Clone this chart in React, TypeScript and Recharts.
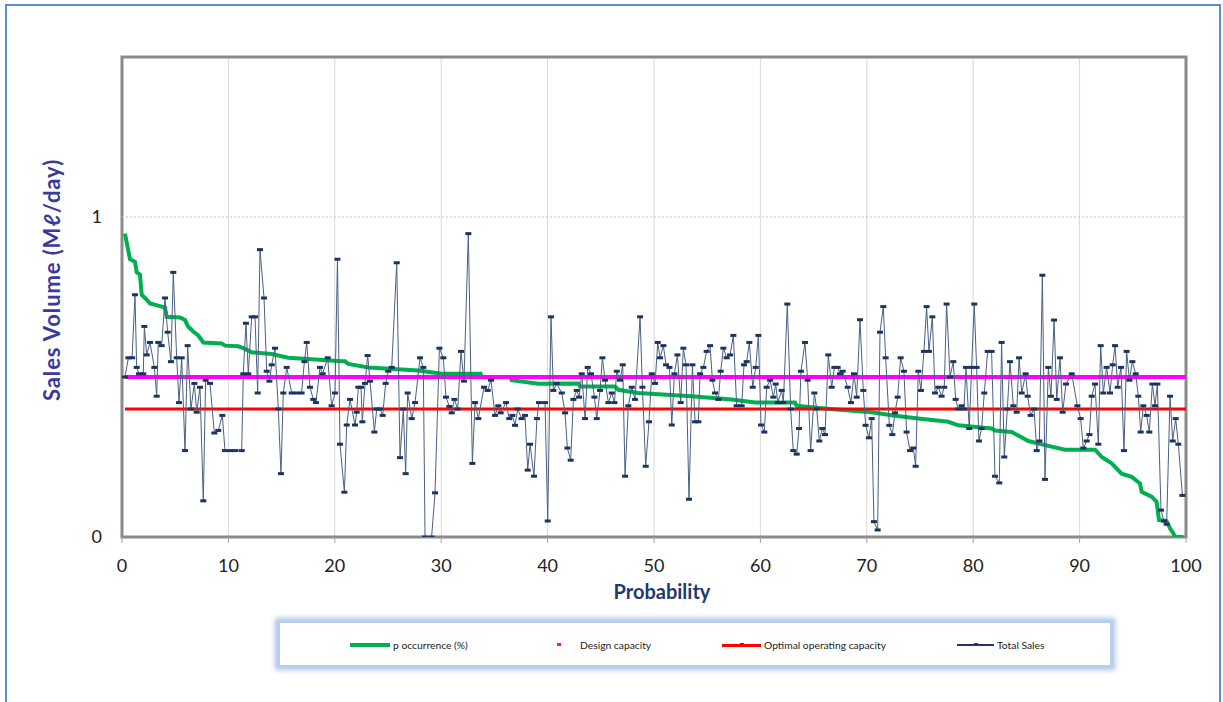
import { CartesianGrid, Label, Line, LineChart, ReferenceArea, ReferenceLine, XAxis, YAxis } from "recharts"

const xTicks = [0, 10, 20, 30, 40, 50, 60, 70, 80, 90, 100]
const yTicks = [0, 1]

// [probability, sales volume]
const totalSales: [number, number][] = [
  [0.28, 0.5], [0.6, 0.56], [0.95, 0.56], [1.22, 0.757], [1.38, 0.53], [1.6, 0.51], [2.0, 0.51], [2.1, 0.658],
  [2.32, 0.569], [2.63, 0.608], [3.04, 0.53], [3.26, 0.44], [3.41, 0.608], [3.73, 0.598], [4.04, 0.747], [4.29, 0.64],
  [4.6, 0.548], [4.82, 0.827], [5.14, 0.56], [5.36, 0.42], [5.61, 0.56], [5.92, 0.27], [6.17, 0.598], [6.48, 0.4],
  [6.8, 0.48], [7.02, 0.39], [7.33, 0.468], [7.64, 0.113], [7.86, 0.49], [8.27, 0.48], [8.68, 0.325], [9.05, 0.333],
  [9.43, 0.38], [9.68, 0.27], [10.15, 0.27], [10.62, 0.27], [11.25, 0.27], [11.4, 0.51], [11.65, 0.668], [11.87, 0.51],
  [12.19, 0.688], [12.5, 0.688], [12.75, 0.45], [12.97, 0.898], [13.35, 0.747], [13.6, 0.518], [13.85, 0.487], [14.07, 0.538],
  [14.38, 0.59], [14.69, 0.4], [14.94, 0.198], [15.16, 0.45], [15.48, 0.53], [15.95, 0.45], [16.42, 0.45], [16.88, 0.45],
  [17.14, 0.548], [17.36, 0.608], [17.67, 0.468], [17.98, 0.43], [18.23, 0.42], [18.61, 0.53], [18.86, 0.51], [19.33, 0.56],
  [19.7, 0.41], [20.02, 0.45], [20.25, 0.868], [20.49, 0.29], [20.9, 0.14], [21.12, 0.35], [21.43, 0.43], [21.9, 0.35],
  [22.06, 0.39], [22.21, 0.468], [22.46, 0.468], [22.59, 0.36], [22.84, 0.48], [23.09, 0.567], [23.31, 0.487], [23.72, 0.328],
  [23.94, 0.4], [24.25, 0.4], [24.5, 0.38], [24.78, 0.48], [25.03, 0.518], [25.35, 0.53], [25.82, 0.857], [26.13, 0.248],
  [26.44, 0.4], [26.66, 0.198], [26.85, 0.45], [27.23, 0.37], [27.54, 0.42], [28.01, 0.56], [28.32, 0.53], [28.48, 0],
  [29.1, 0], [29.42, 0.138], [29.83, 0.59], [30.2, 0.56], [30.45, 0.437], [30.77, 0.408], [30.99, 0.388], [31.24, 0.43],
  [31.55, 0.4], [31.86, 0.58], [32.14, 0.487], [32.55, 0.948], [32.93, 0.23], [33.18, 0.42], [33.49, 0.37], [34.02, 0.468],
  [34.37, 0.458], [34.68, 0.49], [35.06, 0.38], [35.37, 0.41], [35.59, 0.388], [36.09, 0.42], [36.4, 0.37], [36.69, 0.38],
  [36.94, 0.349], [37.19, 0.4], [37.56, 0.37], [37.88, 0.38], [38.13, 0.209], [38.35, 0.29], [38.72, 0.19], [39.0, 0.37],
  [39.19, 0.42], [39.76, 0.42], [40.01, 0.05], [40.32, 0.688], [40.54, 0.458], [40.85, 0.48], [41.33, 0.45], [41.64, 0.388],
  [41.86, 0.278], [42.17, 0.24], [42.42, 0.43], [42.74, 0.458], [42.96, 0.437], [43.21, 0.51], [43.52, 0.37], [43.77, 0.53],
  [44.08, 0.51], [44.4, 0.437], [44.62, 0.37], [44.93, 0.458], [45.15, 0.56], [45.4, 0.49], [45.71, 0.42], [46.03, 0.45],
  [46.28, 0.42], [46.5, 0.518], [46.81, 0.49], [47.06, 0.538], [47.28, 0.19], [47.59, 0.41], [47.91, 0.468], [48.22, 0.43],
  [48.69, 0.688], [48.91, 0.468], [49.22, 0.221], [49.53, 0.36], [49.79, 0.51], [50.1, 0.48], [50.35, 0.608], [50.57, 0.56],
  [50.88, 0.598], [51.13, 0.538], [51.45, 0.53], [51.67, 0.35], [51.92, 0.51], [52.2, 0.569], [52.51, 0.42], [52.76, 0.59],
  [53.01, 0.538], [53.29, 0.118], [53.61, 0.538], [53.86, 0.36], [54.17, 0.36], [54.33, 0.51], [54.64, 0.53], [54.95, 0.58],
  [55.27, 0.598], [55.49, 0.49], [55.74, 0.45], [56.05, 0.43], [56.27, 0.518], [56.52, 0.59], [56.83, 0.56], [57.15, 0.569],
  [57.46, 0.63], [57.77, 0.41], [58.24, 0.41], [58.46, 0.538], [58.71, 0.548], [58.96, 0.608], [59.28, 0.468], [59.56, 0.53],
  [59.81, 0.63], [60.06, 0.35], [60.37, 0.328], [60.59, 0.468], [60.91, 0.49], [61.22, 0.437], [61.44, 0.478], [61.63, 0.42],
  [62.0, 0.458], [62.16, 0.42], [62.53, 0.728], [62.84, 0.4], [63.09, 0.27], [63.41, 0.259], [63.63, 0.339], [63.81, 0.518],
  [64.19, 0.608], [64.44, 0.49], [64.72, 0.27], [65.07, 0.45], [65.29, 0.4], [65.54, 0.3], [65.82, 0.339], [66.07, 0.32],
  [66.38, 0.569], [66.7, 0.468], [66.95, 0.53], [67.26, 0.53], [67.48, 0.51], [67.73, 0.518], [68.2, 0.468], [68.51, 0.42],
  [68.8, 0.51], [69.05, 0.437], [69.36, 0.679], [69.67, 0.458], [69.89, 0.349], [70.2, 0.31], [70.46, 0.37], [70.67, 0.048],
  [71.02, 0.022], [71.24, 0.64], [71.55, 0.72], [71.77, 0.56], [72.12, 0.349], [72.4, 0.32], [72.65, 0.388], [72.9, 0.437],
  [73.18, 0.56], [73.49, 0.518], [73.74, 0.328], [74.06, 0.27], [74.37, 0.278], [74.59, 0.221], [74.84, 0.518], [75.09, 0.458],
  [75.37, 0.58], [75.62, 0.72], [75.84, 0.58], [76.16, 0.688], [76.41, 0.45], [76.72, 0.468], [77.03, 0.44], [77.28, 0.468],
  [77.5, 0.728], [77.82, 0.5], [78.13, 0.548], [78.35, 0.43], [78.6, 0.4], [78.91, 0.41], [79.13, 0.4], [79.32, 0.53],
  [79.63, 0.339], [79.85, 0.53], [80.1, 0.728], [80.32, 0.53], [80.54, 0.3], [80.79, 0.339], [81.04, 0.45], [81.36, 0.58],
  [81.73, 0.58], [82.05, 0.19], [82.45, 0.169], [82.67, 0.608], [82.92, 0.25], [83.21, 0.4], [83.46, 0.548], [83.77, 0.41],
  [84.09, 0.39], [84.31, 0.56], [84.56, 0.45], [84.93, 0.51], [85.12, 0.44], [85.4, 0.38], [85.72, 0.4], [85.97, 0.27],
  [86.22, 0.3], [86.5, 0.818], [86.75, 0.18], [87.06, 0.53], [87.31, 0.44], [87.6, 0.678], [87.85, 0.43], [88.16, 0.56],
  [88.41, 0.39], [88.72, 0.478], [89.26, 0.51], [89.79, 0.41], [90.1, 0.37], [90.35, 0.278], [90.67, 0.3], [90.92, 0.32],
  [91.14, 0.44], [91.45, 0.478], [91.76, 0.29], [91.98, 0.598], [92.23, 0.45], [92.54, 0.53], [92.86, 0.45], [93.11, 0.538],
  [93.33, 0.598], [93.58, 0.468], [93.89, 0.53], [94.17, 0.27], [94.42, 0.58], [94.68, 0.49], [94.96, 0.548], [95.27, 0.51],
  [95.52, 0.44], [95.74, 0.328], [95.99, 0.41], [96.3, 0.38], [96.55, 0.328], [96.84, 0.478], [97.09, 0.41], [97.31, 0.478],
  [97.65, 0.084], [97.93, 0.05], [98.18, 0.04], [98.5, 0.44], [98.75, 0.3], [99.03, 0.37], [99.28, 0.29], [99.66, 0.13],
]

// duration curve, [probability, sales volume]
const occurrence: [number, number][] = [
  [0.28, 0.948], [0.53, 0.905], [0.75, 0.868], [1.22, 0.86], [1.38, 0.827], [1.69, 0.82], [1.85, 0.757], [2.16, 0.747],
  [2.63, 0.73], [3.41, 0.723], [4.04, 0.717], [4.2, 0.688], [5.45, 0.686], [5.92, 0.678], [6.23, 0.657], [6.7, 0.642],
  [7.17, 0.63], [7.64, 0.608], [9.37, 0.605], [9.68, 0.598], [10.93, 0.596], [11.4, 0.59], [12.19, 0.577], [14.07, 0.572],
  [15.63, 0.56], [20.65, 0.549], [20.96, 0.549], [21.27, 0.541], [23.15, 0.53], [27.85, 0.52], [30.05, 0.51], [33.7, 0.51],
  [33.8, 0.5], [36.5, 0.5], [36.62, 0.49], [39.13, 0.479], [42.89, 0.48], [43.05, 0.47], [46.34, 0.47], [46.65, 0.46],
  [48.53, 0.45], [53.54, 0.44], [57.3, 0.43], [59.5, 0.42], [63.25, 0.42], [63.41, 0.41], [66.54, 0.4], [70.46, 0.39],
  [72.49, 0.38], [74.84, 0.37], [77.66, 0.36], [78.6, 0.349], [81.73, 0.339], [82.05, 0.333], [83.62, 0.328], [85.18, 0.3],
  [86.75, 0.287], [88.63, 0.273], [91.45, 0.273], [92.08, 0.25], [93.01, 0.23], [93.95, 0.198], [94.89, 0.188], [95.68, 0.167],
  [95.83, 0.141], [96.77, 0.126], [97.24, 0.11], [97.46, 0.053], [98.18, 0.05], [98.5, 0.027], [98.81, 0.011], [98.97, 0],
  [99.75, 0],
]

const capacityRange = [0.28, 100]
const designCapacity = 0.5
const optimalCapacity = 0.4

const toRows = (pts: [number, number][]) => pts.map(([x, y]) => ({ x, y }))
const flatRows = (v: number) => capacityRange.map((x) => ({ x, y: v }))

const FONT = "Lato, 'Open Sans', sans-serif"

const SalesDot = (props: any) => {
  const { cx, cy, index } = props
  return <rect key={`d${index}`} x={cx - 3} y={cy - 1.5} width={6} height={3} fill="#1b355f" />
}

const legendItems = [
  { name: "p occurrence (%)", color: "#00b050", kind: "line", w: 4, left: 350, len: 40 },
  { name: "Design capacity", color: "#ff00ff", kind: "dot", w: 4, left: 557, len: 4 },
  { name: "Optimal operating capacity", color: "#ff0000", kind: "line", w: 3, left: 722, len: 39 },
  { name: "Total Sales", color: "#1f3864", kind: "line", w: 1.5, left: 957, len: 37 },
]

export default function App() {
  return (
    <div style={{ position: "absolute", left: 0, top: 0, width: 1223, height: 702, background: "#fff", overflow: "hidden", fontFamily: FONT }}>
      <div
        style={{
          position: "absolute",
          left: 5,
          top: 4,
          width: 1216,
          height: 720,
          boxSizing: "border-box",
          border: "2.5px solid #5b8ed8",
        }}
      />
      <div style={{ position: "absolute", left: 0, top: 0 }}>
        <LineChart width={1223} height={702} margin={{ top: 57, right: 37, left: 0, bottom: 125 }}>
          <CartesianGrid horizontal={false} stroke="#d9d9d9" strokeWidth={1} />
          <ReferenceLine y={1} stroke="#c6c6c6" strokeDasharray="2 2" />
          <XAxis
            type="number"
            dataKey="x"
            domain={[0, 100]}
            ticks={xTicks}
            axisLine={false}
            tickLine={{ stroke: "#a0a0a0" }}
            tickSize={6}
            tickMargin={16}
            height={40}
            tick={{ fontSize: 18, fill: "#222", fontFamily: FONT }}
          >
            <Label
              content={({ viewBox }: any) => (
                <text
                  x={viewBox.x + viewBox.width / 2 + 8}
                  y={599}
                  textAnchor="middle"
                  fontSize={20}
                  fontWeight={700}
                  fill="#1f3a6e"
                  fontFamily={FONT}
                >
                  Probability
                </text>
              )}
            />
          </XAxis>
          <YAxis
            type="number"
            dataKey="y"
            domain={[0, 1.5]}
            ticks={yTicks}
            width={122}
            axisLine={false}
            tickLine={false}
            tickMargin={14}
            allowDataOverflow
            tick={{ fontSize: 18, fill: "#222", fontFamily: FONT }}
          >
            <Label
              content={({ viewBox }: any) => {
                const cx = 51
                const cy = viewBox.y + viewBox.height / 2 - 17
                return (
                  <text
                    x={cx}
                    y={cy}
                    transform={`rotate(-90, ${cx}, ${cy})`}
                    textAnchor="middle"
                    dominantBaseline="central"
                    fontSize={22}
                    fontWeight={700}
                    letterSpacing={0.9}
                    fill="#3a3a9c"
                    fontFamily={FONT}
                  >
                    Sales Volume (Mℓ/day)
                  </text>
                )
              }}
            />
          </YAxis>
          <ReferenceArea x1={0} x2={100} y1={0} y2={1.5} fill="none" stroke="#8a8a8a" strokeWidth={3} />
          <Line
            data={toRows(occurrence)}
            dataKey="y"
            name="p occurrence (%)"
            type="linear"
            stroke="#00b050"
            strokeWidth={4}
            dot={false}
            isAnimationActive={false}
          />
          <Line
            data={flatRows(designCapacity)}
            dataKey="y"
            name="Design capacity"
            stroke="#ff00ff"
            strokeWidth={4}
            dot={false}
            isAnimationActive={false}
          />
          <Line
            data={flatRows(optimalCapacity)}
            dataKey="y"
            name="Optimal operating capacity"
            stroke="#ff0000"
            strokeWidth={3}
            dot={false}
            isAnimationActive={false}
          />
          <Line
            data={toRows(totalSales)}
            dataKey="y"
            name="Total Sales"
            type="linear"
            stroke="#4a5f82"
            strokeWidth={1}
            dot={SalesDot}
            isAnimationActive={false}
          />
        </LineChart>
      </div>
      <div
        style={{
          position: "absolute",
          left: 277,
          top: 620,
          width: 836,
          height: 48,
          boxSizing: "border-box",
          background: "#fff",
          border: "3px solid #b9cdec",
          boxShadow: "0 0 5px 2px rgba(150,180,225,0.8)",
        }}
      />
      {legendItems.map((it) => (
        <div key={it.name} style={{ position: "absolute", left: it.left, top: 637, height: 16, display: "flex", alignItems: "center" }}>
          <div style={{ position: "relative", width: it.len, height: 16 }}>
            {it.kind === "line" ? (
              <div style={{ position: "absolute", left: 0, top: 8 - it.w / 2, width: it.len, height: it.w, background: it.color }} />
            ) : null}
            <div style={{ position: "absolute", left: it.len / 2 - 2, top: 6, width: 4, height: 3, background: it.color }} />
          </div>
          <span style={{ marginLeft: it.kind === "dot" ? 19 : 3, fontSize: 10.3, color: "#222", whiteSpace: "nowrap" }}>{it.name}</span>
        </div>
      ))}
    </div>
  )
}
